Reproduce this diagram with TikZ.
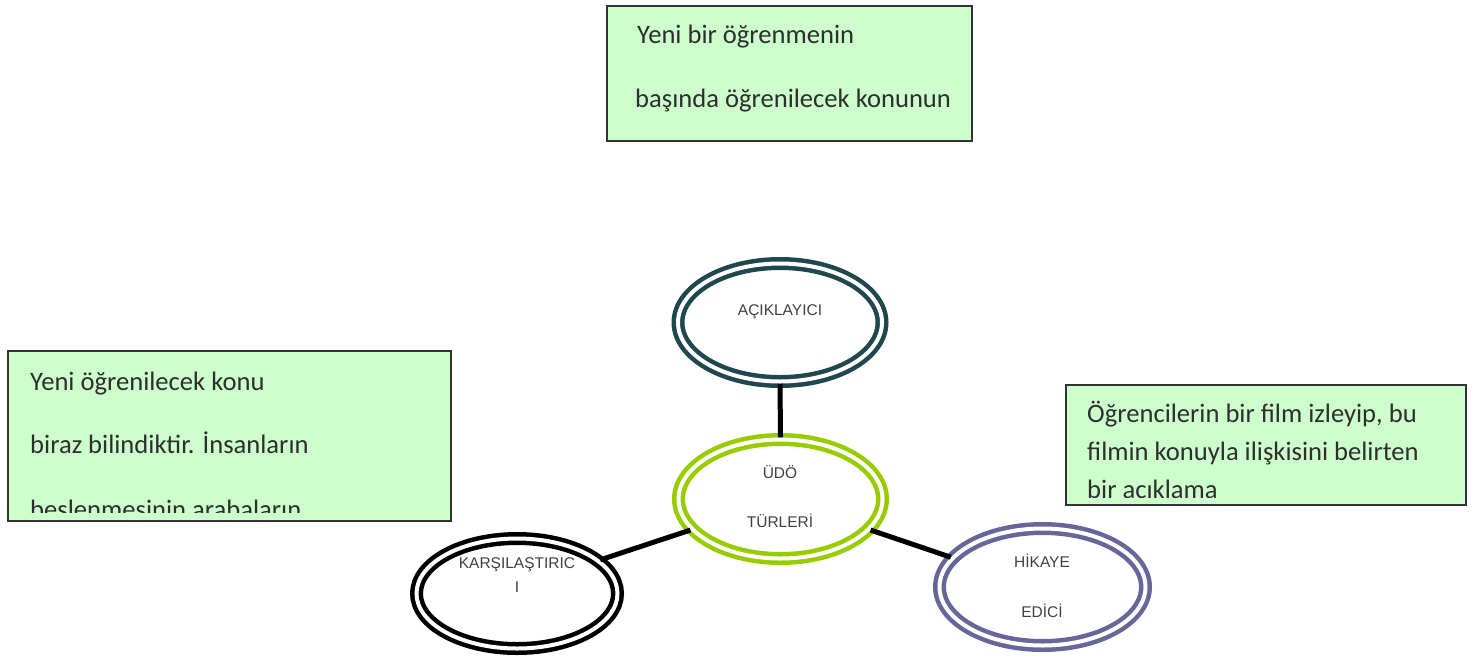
\documentclass[tikz,border=0pt]{standalone}
\usepackage{fontspec}
\setmainfont{Carlito}
\newfontfamily\arialf{Liberation Sans}
\usetikzlibrary{shapes.geometric}
\definecolor{boxfill}{HTML}{CCFFCC}
\definecolor{boxline}{HTML}{333333}
\definecolor{tealc}{HTML}{1F474D}
\definecolor{greenc}{HTML}{99CC00}
\definecolor{purplec}{HTML}{666699}
\definecolor{txtc}{HTML}{2E2E2E}
\definecolor{elltxt}{HTML}{404040}
\tikzset{
  infobox/.style={draw=boxline, fill=boxfill, line width=2pt},
  boxtext/.style={anchor=base west, inner sep=0pt, text=txtc, font=\fontsize{26.6}{30}\selectfont},
  dell/.style={ellipse, draw=#1, line width=4.5pt, double=white, double distance=4pt, inner sep=0pt},
  elab/.style={anchor=base, inner sep=0pt, text=elltxt, font=\arialf\fontsize{15.5}{18}\selectfont},
  conn/.style={line width=5pt, black}
}
\begin{document}
\begin{tikzpicture}[x=1pt,y=-1pt]
\useasboundingbox (0,0) rectangle (1474,657);
% boxes
\draw[infobox] (607,6) rectangle (972,141);
\node[boxtext] (t1) at (637,43) {Yeni bir öğrenmenin};
\node[boxtext] (t2) at (635,107) {başında öğrenilecek konunun};

\draw[infobox] (8,351) rectangle (451,521);
\begin{scope}
\clip (9,352) rectangle (450,512);
\node[boxtext] (l1) at (30,390) {Yeni öğrenilecek konu};
\node[boxtext] (l2) at (30,453) {biraz bilindiktir. İnsanların};
\node[boxtext] (l3) at (30,518) {beslenmesinin arabaların};
\end{scope}

\draw[infobox] (1066,385) rectangle (1466,505);
\begin{scope}
\clip (1067,386) rectangle (1465,497);
\node[boxtext] (r1) at (1087,422) {Öğrencilerin bir film izleyip, bu};
\node[boxtext] (r2) at (1087,460) {filmin konuyla ilişkisini belirten};
\node[boxtext] (r3) at (1087,498) {bir açıklama};
\end{scope}

% ellipses
\node[dell=tealc, minimum width=204pt, minimum height=118pt] (acik) at (780,322.5) {};
\node[dell=greenc, minimum width=204pt, minimum height=119pt] (udo) at (780.5,499) {};
\node[dell=black, minimum width=201pt, minimum height=110pt] (kar) at (517,593.5) {};
\node[dell=purplec, minimum width=206pt, minimum height=117pt] (hik) at (1042.5,587) {};

% connectors
\draw[conn] (acik.south) -- (udo.north);
\draw[conn] (kar.22) -- (udo.199);
\draw[conn] (udo.341) -- (hik.162);

% labels
\node[elab] (la) at (780,315.5) {AÇIKLAYICI};
\node[elab] (lu1) at (780,478.5) {ÜDÖ};
\node[elab] (lu2) at (780,527.5) {TÜRLERİ};
\node[elab] (lk1) at (517,568.5) {KARŞILAŞTIRIC};
\node[elab] (lk2) at (517,592.5) {I};
\node[elab] (lh1) at (1042,567.5) {HİKAYE};
\node[elab] (lh2) at (1042,617.5) {EDİCİ};
\end{tikzpicture}
\end{document}
